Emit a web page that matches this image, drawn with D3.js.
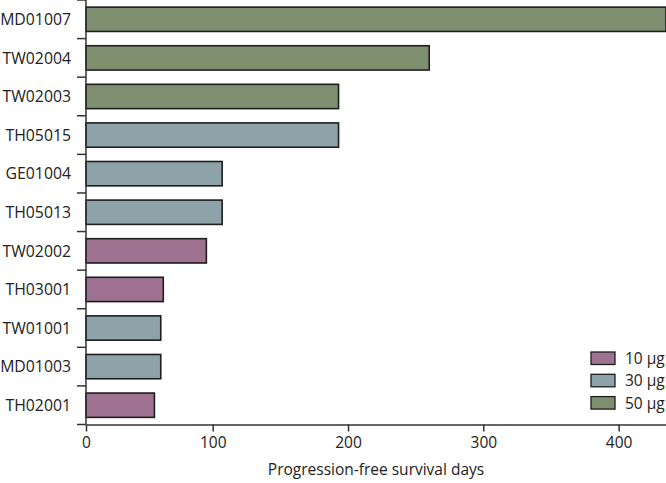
<!DOCTYPE html>
<html>
<head>
<meta charset="utf-8">
<script src="https://cdn.jsdelivr.net/npm/d3@7"></script>
<style>
  body { margin: 0; background: #fff; }
  text { font-family: "Open Sans", "Noto Sans", sans-serif; fill: #222; }
</style>
</head>
<body>
<script>
// data
var patients = ["MD01007", "TW02004", "TW02003", "TH05015", "GE01004", "TH05013",
                "TW02002", "TH03001", "TW01001", "MD01003", "TH02001"];
var pfs_days = [435, 260, 193, 193, 107, 107, 95, 61, 59, 59, 54];
var doses    = ["50 µg", "50 µg", "50 µg", "30 µg", "30 µg", "30 µg",
                "10 µg", "10 µg", "30 µg", "30 µg", "10 µg"];
var dose_levels = ["10 µg", "30 µg", "50 µg"];
var x_ticks = [0, 100, 200, 300, 400];

var chart_width = 666, chart_height = 483;
var plot_left = 86, plot_right = 666, plot_top = 0, plot_bottom = 424.5;

var svg = d3.select("body").append("svg")
  .attr("width", chart_width).attr("height", chart_height);

// the source axis has a slightly shorter first interval (0-100), so use a two-piece scale
var x = d3.scaleLinear().domain([0, 100, 435]).range([plot_left, 212.7, plot_right]);
var y = d3.scaleBand().domain(patients).range([plot_top, plot_bottom]).paddingInner(0.37).paddingOuter(0.185);
var color = d3.scaleOrdinal().domain(dose_levels).range(["#9e7290", "#8ea2aa", "#7d8f6e"]);

// bars
svg.append("g").selectAll("rect")
  .data(patients)
  .join("rect")
    .attr("x", x(0))
    .attr("y", d => y(d))
    .attr("width", (d, i) => x(pfs_days[i]) - x(0))
    .attr("height", y.bandwidth())
    .attr("fill", (d, i) => color(doses[i]))
    .attr("stroke", "#1e1e1e")
    .attr("stroke-width", 1.6);

// y axis: ticks sit on the band edges
var band_step = y.step();
var y_axis = svg.append("g");
y_axis.append("line")
  .attr("x1", plot_left).attr("x2", plot_left)
  .attr("y1", plot_top).attr("y2", plot_bottom)
  .attr("stroke", "#333").attr("stroke-width", 1.5);
y_axis.selectAll("line.tk")
  .data(d3.range(patients.length + 1))
  .join("line").attr("class", "tk")
    .attr("x1", plot_left - 9).attr("x2", plot_left)
    .attr("y1", d => plot_top + d * band_step)
    .attr("y2", d => plot_top + d * band_step)
    .attr("stroke", "#333").attr("stroke-width", 1.5);
y_axis.selectAll("text")
  .data(patients)
  .join("text")
    .attr("x", 71)
    .attr("y", d => y(d) + y.bandwidth() / 2)
    .attr("dy", "0.36em")
    .attr("text-anchor", "end")
    .style("font-size", "15.8px")
    .text(d => d);

// x axis
var x_axis = svg.append("g")
  .attr("transform", "translate(0," + plot_bottom + ")")
  .call(d3.axisBottom(x).tickValues(x_ticks).tickSize(7).tickPadding(5).tickSizeOuter(0));
x_axis.select(".domain").attr("stroke", "#333").attr("stroke-width", 1.5);
x_axis.selectAll(".tick line").attr("stroke", "#333").attr("stroke-width", 1.5);
x_axis.selectAll(".tick text")
  .style("font-size", "15.5px")
  .style("font-family", "'Open Sans', sans-serif")
  .attr("fill", "#222");

svg.append("text")
  .attr("x", (plot_left + plot_right) / 2)
  .attr("y", 475)
  .attr("text-anchor", "middle")
  .style("font-size", "15.5px")
  .text("Progression-free survival days");

// legend
var legend = svg.append("g").attr("transform", "translate(591,352)");
var leg = legend.selectAll("g")
  .data(dose_levels)
  .join("g")
    .attr("transform", (d, i) => "translate(0," + i * 22.3 + ")");
leg.append("rect")
  .attr("width", 24).attr("height", 12.5)
  .attr("fill", d => color(d))
  .attr("stroke", "#1e1e1e").attr("stroke-width", 1.3);
leg.append("text")
  .attr("x", 34).attr("y", 6.5).attr("dy", "0.36em")
  .style("font-size", "15.5px")
  .text(d => d);
</script>
</body>
</html>
